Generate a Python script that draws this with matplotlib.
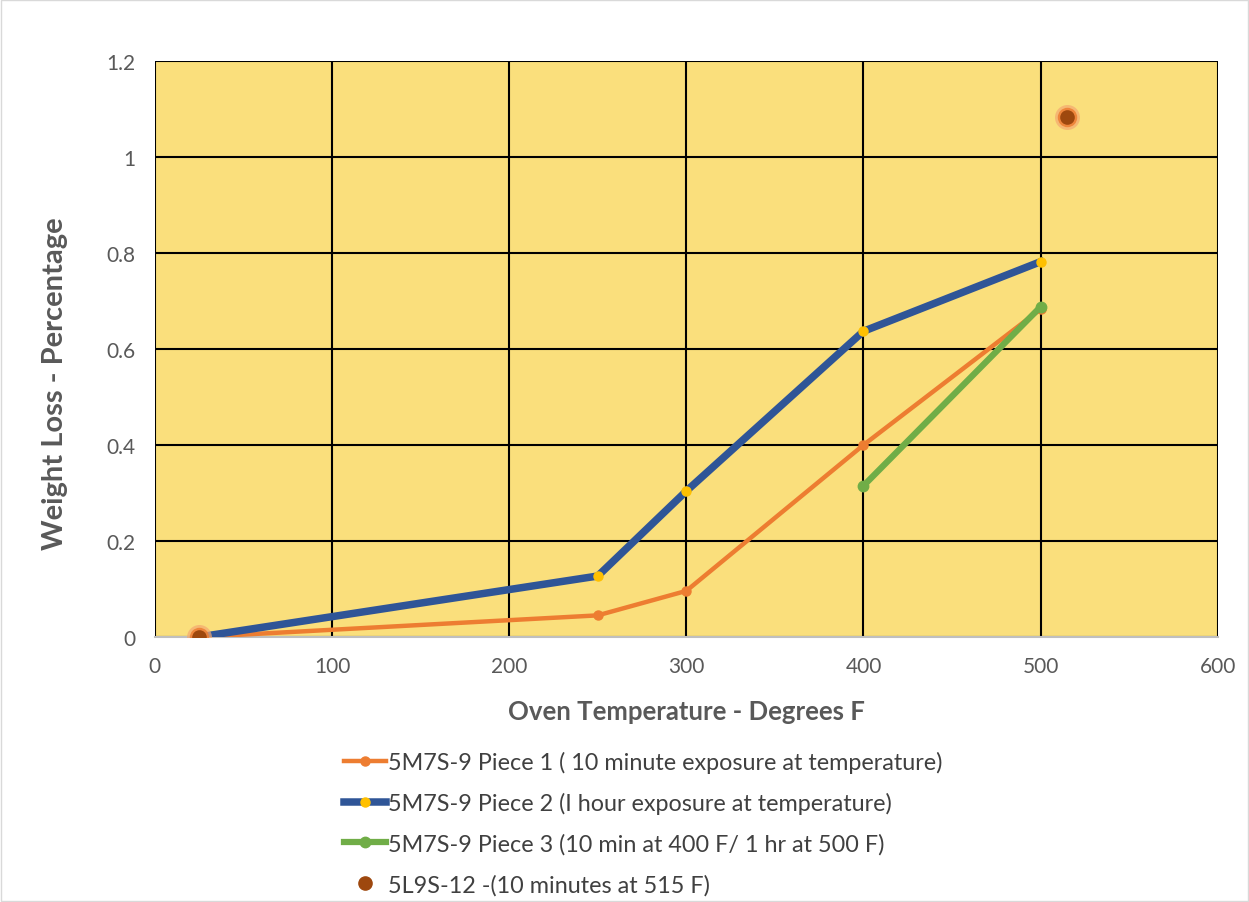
import numpy as np
import matplotlib.pyplot as plt

plt.rcParams['font.family'] = ['Lato', 'DejaVu Sans']

# data
p1_x = [25, 250, 300, 400, 500]
p1_y = [0, 0.045, 0.096, 0.40, 0.683]
p2_x = [25, 250, 300, 400, 500]
p2_y = [0, 0.127, 0.304, 0.637, 0.782]
p3_x = [400, 500]
p3_y = [0.315, 0.688]
s4_x = [25, 515]
s4_y = [0, 1.083]

labels = ['5M7S-9 Piece 1 ( 10 minute exposure at temperature)',
          '5M7S-9 Piece 2 (I hour exposure at temperature)',
          '5M7S-9 Piece 3 (10 min at 400 F/ 1 hr at 500 F)',
          '5L9S-12 -(10 minutes at 515 F)']

fig = plt.figure(figsize=(12.49, 9.03), dpi=100)
ax = fig.add_axes([0.124, 0.2935, 0.851, 0.6378])
ax.set_facecolor('#FADF7C')

ax.plot(p1_x, p1_y, '-o', color='#ED7D31', lw=3.2, ms=6.5, label=labels[0], zorder=3)
ax.plot(p2_x, p2_y, '-o', color='#2F5597', lw=5.4, ms=6.5,
        mfc='#FFC000', mec='#FFC000', label=labels[1], zorder=4)
ax.plot(p3_x, p3_y, '-o', color='#70AD47', lw=4.5, ms=7.5, label=labels[2], zorder=5)
# glow under the last series
ax.plot(s4_x, s4_y, 'o', color='#F4A870', ms=18, alpha=0.7, mew=0, zorder=5)
ax.plot(s4_x, s4_y, 'o', color='#ED7D31', ms=14, alpha=0.85, mew=0, zorder=5)
ax.plot(s4_x, s4_y, 'o', color='#9E480E', ms=9.5, label=labels[3], zorder=6)

ax.set_xlim(0, 600)
ax.set_ylim(0, 1.2)
ax.set_xticks(np.arange(0, 601, 100))
ax.set_yticks(np.arange(0, 1.21, 0.2))
ax.set_yticklabels(['0', '0.2', '0.4', '0.6', '0.8', '1', '1.2'])
ax.grid(True, color='black', lw=1.5, zorder=1)
ax.set_axisbelow(True)
ax.tick_params(length=0, labelsize=15, colors='#595959', pad=14)
for s in ['left', 'top', 'right']:
    ax.spines[s].set_visible(False)
ax.spines['bottom'].set_color('#BFBFBF')
ax.spines['bottom'].set_linewidth(1.5)

ax.set_xlabel('Oven Temperature - Degrees F', fontsize=18.5, fontweight='bold',
              color='#595959')
ax.set_ylabel('Weight Loss - Percentage', fontsize=21, fontweight='bold',
              color='#595959')
ax.xaxis.set_label_coords(0.5, -0.128)
ax.yaxis.set_label_coords(-0.094, 0.441)
ax.xaxis.label.set_va('center')
ax.yaxis.label.set_va('center')

leg = fig.legend(loc='upper left', bbox_to_anchor=(0.268, 0.178), frameon=False,
                 fontsize=16.8, handlelength=1.8, handletextpad=0.1,
                 labelspacing=0.82, borderaxespad=0)
for t in leg.get_texts():
    t.set_color('#404040')

fig.patches.append(plt.Rectangle((0.001, 0.001), 0.998, 0.998, transform=fig.transFigure,
                                 fill=False, edgecolor='#D9D9D9', lw=1))

fig.savefig('out.png', dpi=100)
